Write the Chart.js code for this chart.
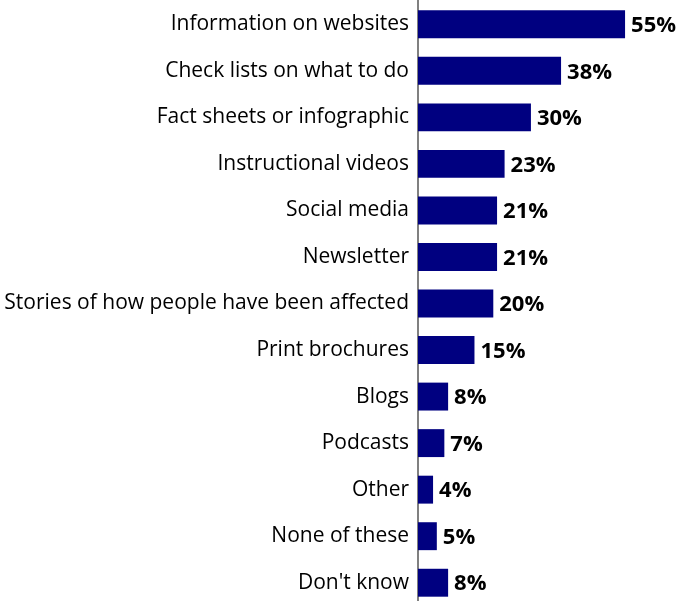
<!DOCTYPE html>
<html>
<head>
<meta charset="utf-8">
<script src="https://cdn.jsdelivr.net/npm/chart.js@4/dist/chart.umd.min.js"></script>
<style>
  html, body { margin: 0; padding: 0; background: #fff; overflow: hidden; }
</style>
</head>
<body>
<canvas id="chart" width="679" height="606"></canvas>
<script>
// Sources of information, share of respondents (%)
const categories = [
  "Information on websites",
  "Check lists on what to do",
  "Fact sheets or infographic",
  "Instructional videos",
  "Social media",
  "Newsletter",
  "Stories of how people have been affected",
  "Print brochures",
  "Blogs",
  "Podcasts",
  "Other",
  "None of these",
  "Don't know"
];
const shares = [55, 38, 30, 23, 21, 21, 20, 15, 8, 7, 4, 5, 8];

// Writes "NN%" to the right of each bar
const valueLabels = {
  id: 'valueLabels',
  afterDatasetsDraw(chart) {
    const ctx = chart.ctx;
    const meta = chart.getDatasetMeta(0);
    ctx.save();
    ctx.font = 'bold 22px "Open Sans"';
    ctx.fillStyle = '#000';
    ctx.textAlign = 'left';
    ctx.textBaseline = 'middle';
    meta.data.forEach((bar, i) => {
      ctx.fillText(shares[i] + '%', bar.x + 6, bar.y + 1.5);
    });
    ctx.restore();
  }
};

new Chart(document.getElementById('chart'), {
  type: 'bar',
  data: {
    labels: categories,
    datasets: [{
      data: shares,
      backgroundColor: '#000080',
      borderWidth: 0,
      categoryPercentage: 1,
      barPercentage: 0.6
    }]
  },
  options: {
    indexAxis: 'y',
    responsive: false,
    animation: false,
    layout: { padding: { top: 1, right: 5, bottom: 0, left: 0 } },
    plugins: {
      legend: { display: false },
      tooltip: { enabled: false }
    },
    scales: {
      x: {
        display: false,
        min: 0,
        max: 68
      },
      y: {
        afterFit(scale) {
          scale.width = 418;
          scale.paddingTop = 0;
          scale.paddingBottom = 0;
        },
        grid: { display: false, drawTicks: false },
        border: { display: true, color: '#808080', width: 2 },
        ticks: {
          color: '#000',
          padding: 9,
          font: { family: 'Open Sans', size: 21 }
        }
      }
    }
  },
  plugins: [valueLabels]
});
</script>
</body>
</html>
